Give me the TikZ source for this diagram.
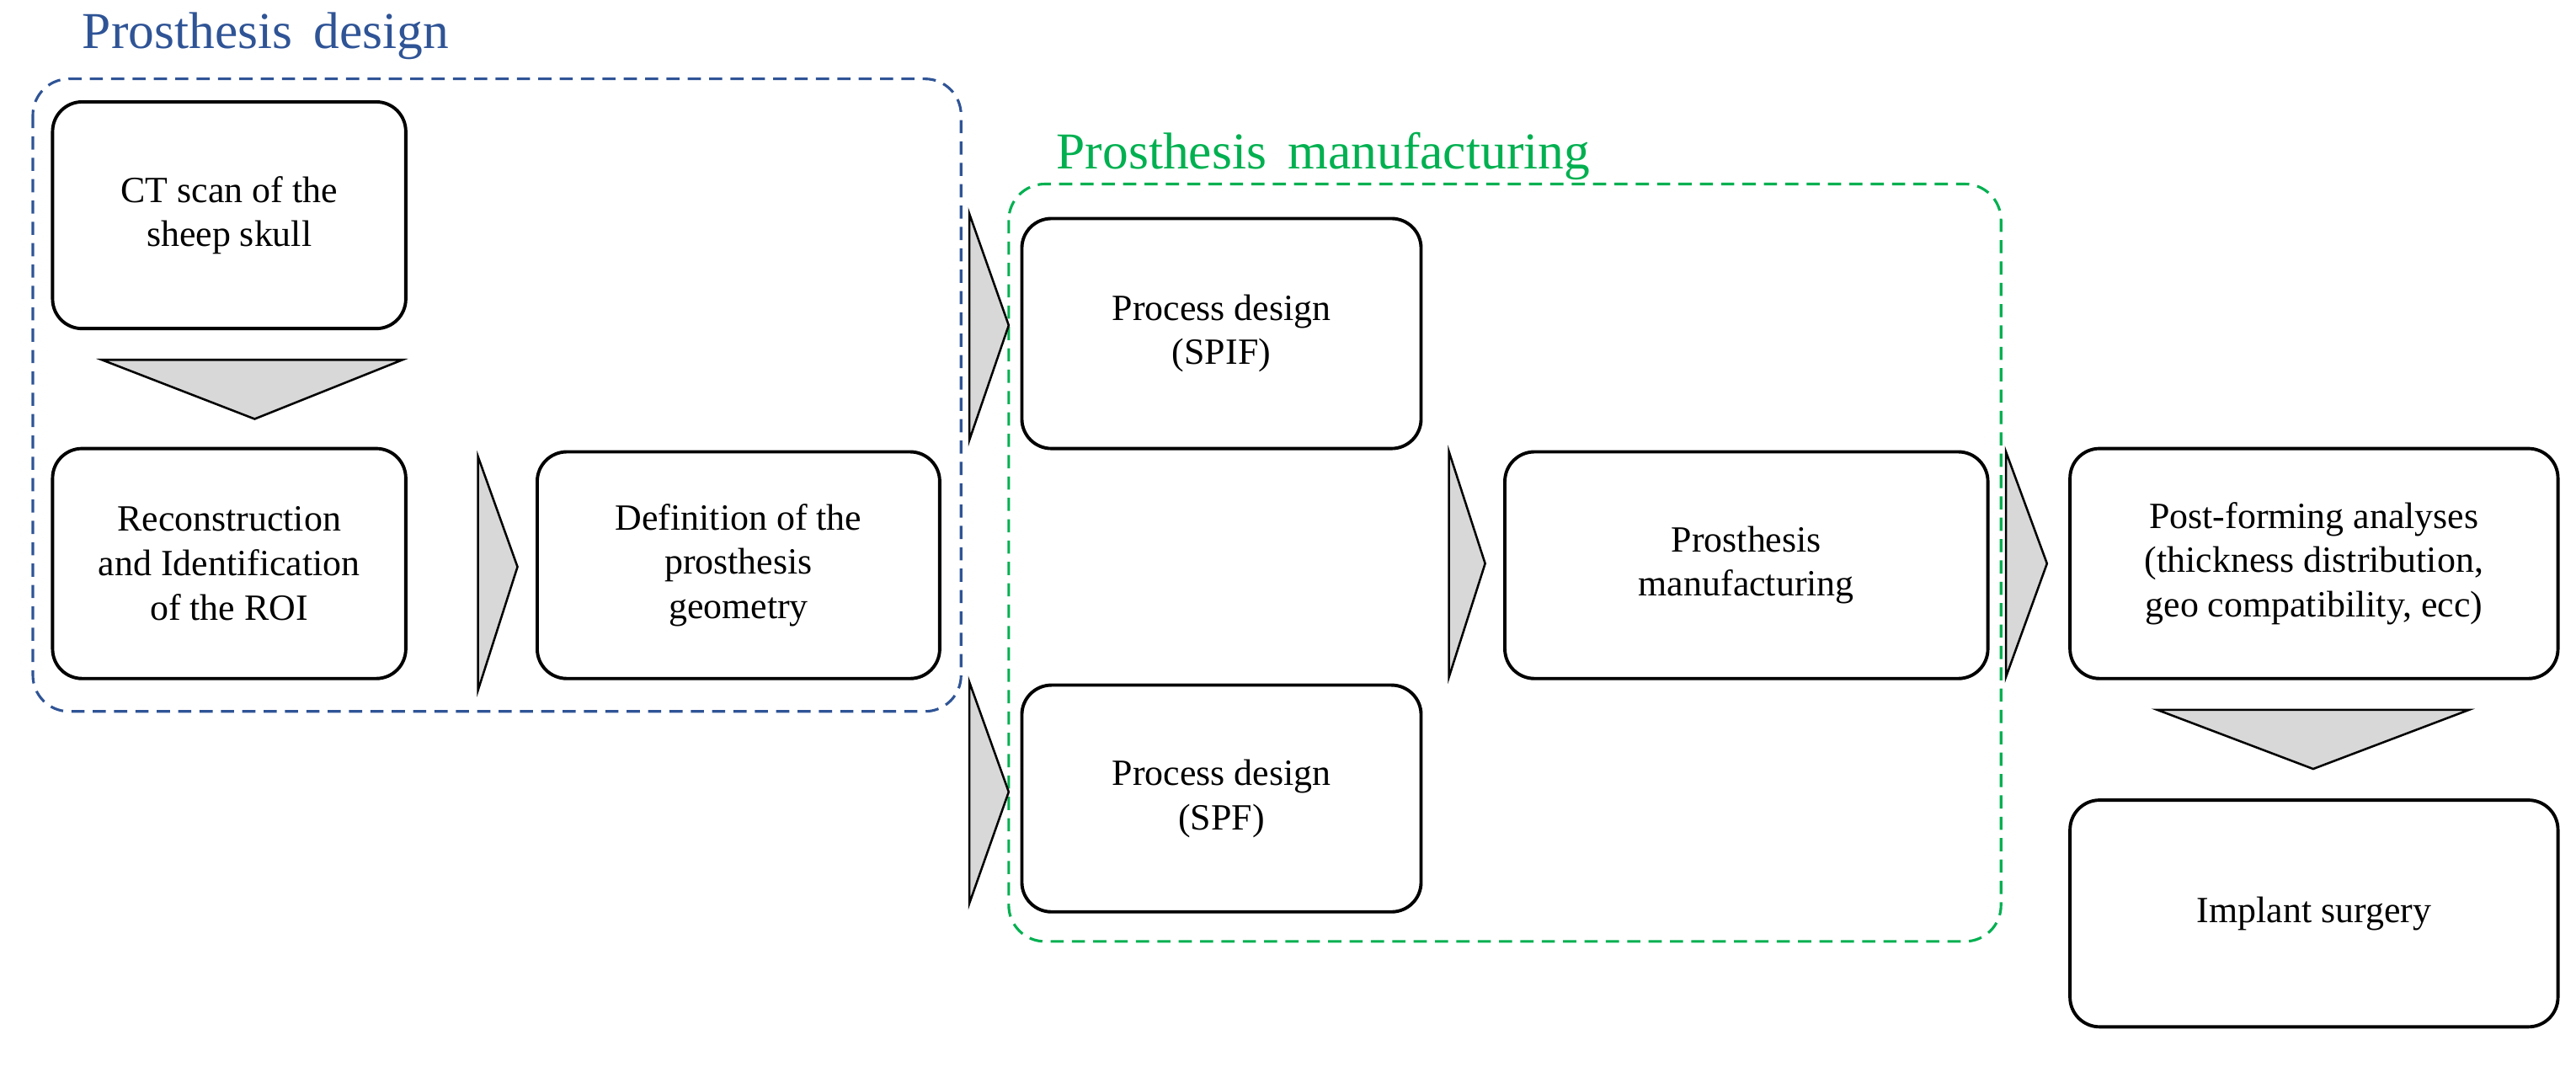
\documentclass[tikz,border=0pt]{standalone}
\usepackage{fontspec}
\setmainfont{Liberation Serif}
\definecolor{dsgblue}{RGB}{47,84,150}
\definecolor{mfggreen}{RGB}{0,176,80}
\definecolor{arrgray}{RGB}{216,216,216}
\tikzset{
  stage/.style={draw, line width=2pt, rounded corners=18pt, align=center,
    inner sep=0pt, font=\fontsize{22.5}{27}\selectfont},
  group/.style={dashed, line width=1.6pt, rounded corners=22pt, dash pattern=on 8pt off 5pt},
  chev/.style={draw, line width=1.3pt, fill=arrgray}
}
\begin{document}
\begin{tikzpicture}[x=1pt,y=1pt,yscale=-1,xscale=1]
\useasboundingbox (0,0) rectangle (1568,649);

% Groups
\draw [group, dsgblue] (20,48) rectangle (585,433);
\node [anchor=west, dsgblue, font=\fontsize{31.5}{36}\selectfont, inner sep=0pt] (lbldsg) at (50,22) {Prosthesis\, design};
\draw [group, mfggreen] (614,112) rectangle (1218,573);
\node [anchor=west, mfggreen, font=\fontsize{31.5}{36}\selectfont, inner sep=0pt] (lblmfg) at (643,95) {Prosthesis\, manufacturing};

% Stages
\node [stage, minimum width=215pt, minimum height=138pt] (ct) at (139.5,131) {CT scan of the\\sheep skull};
\node [stage, minimum width=215pt, minimum height=140pt] (roi) at (139.5,343) {Reconstruction\\and Identification\\of the ROI};
\node [stage, minimum width=245pt, minimum height=138pt] (geo) at (449.5,344) {Definition of the\\prosthesis\\geometry};
\node [stage, minimum width=243pt, minimum height=140pt] (spif) at (743.5,203) {Process design\\(SPIF)};
\node [stage, minimum width=243pt, minimum height=138pt] (spf) at (743.5,486) {Process design\\(SPF)};
\node [stage, minimum width=294pt, minimum height=138pt] (mfg) at (1063,344) {Prosthesis\\manufacturing};
\node [stage, minimum width=297pt, minimum height=140pt] (post) at (1408.5,343) {Post-forming analyses\\(thickness distribution,\\geo compatibility, ecc)};
\node [stage, minimum width=297pt, minimum height=138pt] (impl) at (1408.5,556) {Implant surgery};

% Chevrons
\draw [chev] (62,219) -- (245,219) -- (155,255) -- cycle;
\draw [chev] (291,278) -- (315,345) -- (291,420) -- cycle;
\draw [chev] (590,130) -- (614,198) -- (590,268) -- cycle;
\draw [chev] (590,415) -- (614,482) -- (590,550) -- cycle;
\draw [chev] (882,275) -- (904,343) -- (882,412) -- cycle;
\draw [chev] (1221,275) -- (1246,343) -- (1221,412) -- cycle;
\draw [chev] (1313,432) -- (1503,432) -- (1408,468) -- cycle;

\end{tikzpicture}
\end{document}
